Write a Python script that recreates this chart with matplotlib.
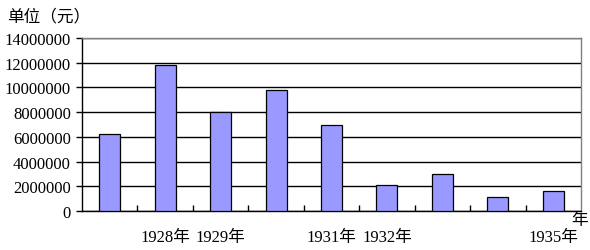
import matplotlib
matplotlib.use("Agg")
import matplotlib.pyplot as plt
from matplotlib.ticker import FixedLocator

plt.rcParams['font.family'] = ['Liberation Serif', 'Noto Sans CJK SC']

years = ['1927年', '1928年', '1929年', '1930年', '1931年', '1932年', '1933年', '1934年', '1935年']
values = [6230000, 11790000, 7990000, 9790000, 6960000, 2080000, 2990000, 1110000, 1620000]
shown_labels = ['', '1928年', '1929年', '', '1931年', '1932年', '', '', '1935年']
yticks = [0, 2000000, 4000000, 6000000, 8000000, 10000000, 12000000, 14000000]

fig = plt.figure(figsize=(5.9, 2.51), dpi=100)
ax = fig.add_axes([82/590, 1-212/251, (581-82)/590, (212-39)/251])

x = list(range(len(years)))
ax.bar(x, values, width=0.38, color='#9999FF', edgecolor='black', linewidth=0.9, zorder=3)

ax.set_xlim(-0.5, len(years) - 0.5)
ax.set_ylim(0, 14000000)
ax.set_yticks(yticks)
ax.set_yticklabels([str(v) for v in yticks], fontsize=12)
ax.yaxis.grid(True, color='black', linewidth=1.0, zorder=1)
ax.set_axisbelow(True)

ax.set_xticks(x)
ax.set_xticklabels(shown_labels, fontsize=12)
ax.tick_params(axis='x', which='major', length=0, pad=13)
ax.xaxis.set_minor_locator(FixedLocator([i + 0.5 for i in range(len(years) - 1)]))
ax.tick_params(axis='x', which='minor', direction='in', length=4, width=1, color='black')
ax.tick_params(axis='y', direction='out', length=4, width=1, color='black', pad=4)

for s in ['top', 'right']:
    ax.spines[s].set_color('#808080')
    ax.spines[s].set_linewidth(1.0)
for s in ['left', 'bottom']:
    ax.spines[s].set_color('black')
    ax.spines[s].set_linewidth(1.0)

fig.text(7/590, 1-17/251, '单位（元）', fontsize=12, ha='left', va='center',
         family=['Noto Sans CJK SC'])
fig.text(580/590, 1-221/251, '年', fontsize=12, ha='center', va='center',
         family=['Noto Sans CJK SC'])

fig.savefig('out.png', dpi=100, facecolor='white')
